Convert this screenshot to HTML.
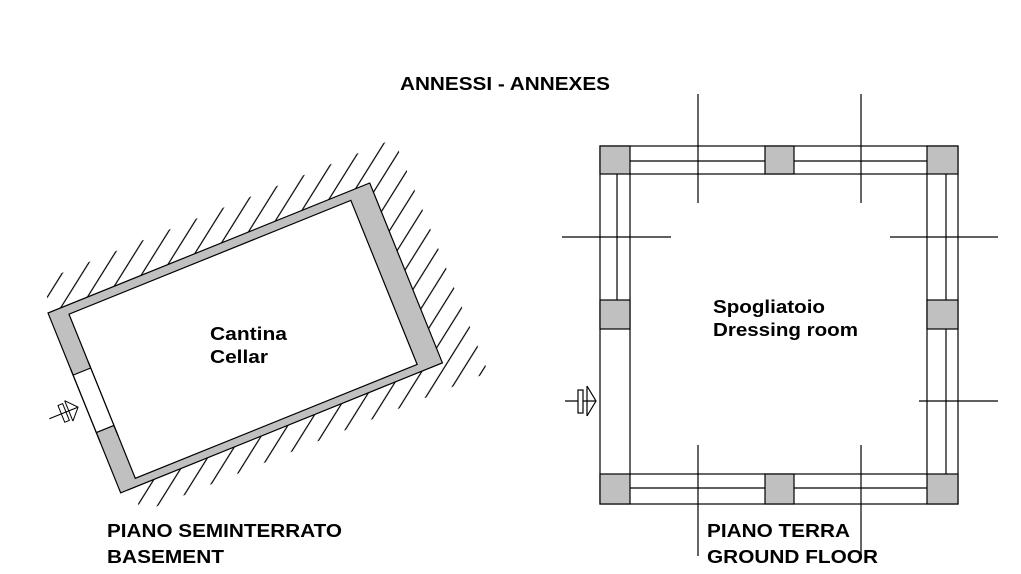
<!DOCTYPE html>
<html><head><meta charset="utf-8"><style>
html,body{margin:0;padding:0;background:#fff;}
svg{display:block;}
text{font-family:"Liberation Sans",Arial,sans-serif;font-weight:bold;font-size:18px;fill:#000;}
</style></head><body>
<svg width="1021" height="574" viewBox="0 0 1021 574" xmlns="http://www.w3.org/2000/svg">
<defs>
<pattern id="hatch" width="17" height="17" patternUnits="userSpaceOnUse" patternTransform="rotate(54)">
<line x1="8" y1="0" x2="8" y2="17" stroke="#000" stroke-width="1.2"/>
</pattern>
<mask id="band">
<polygon points="5,-32 386,-32 386,220 12,220 12,194 347,194 347,0 5,0" fill="#fff"/>
</mask>
</defs>
<text x="400" y="90" textLength="210" lengthAdjust="spacingAndGlyphs">ANNESSI - ANNEXES</text>

<!-- Left plan -->
<g transform="translate(48,313) rotate(-22)">
<rect x="-10" y="-60" width="420" height="310" fill="url(#hatch)" mask="url(#band)"/>
<rect x="0" y="0" width="347" height="194" fill="#c0c0c0" stroke="#000" stroke-width="1.2"/>
<rect x="19" y="9" width="304" height="177" fill="#fff" stroke="#000" stroke-width="1.2"/>
<rect x="0.6" y="67" width="18" height="62" fill="#fff"/>
<line x1="0" y1="67" x2="19" y2="67" stroke="#000" stroke-width="1.2"/>
<line x1="0" y1="129" x2="19" y2="129" stroke="#000" stroke-width="1.2"/>
<line x1="0" y1="60" x2="0" y2="140" stroke="#000" stroke-width="1.2"/>
<line x1="19" y1="60" x2="19" y2="140" stroke="#000" stroke-width="1.2"/>
</g>
<!-- left entry arrow -->
<g transform="translate(66,412) rotate(-22)" stroke="#000" stroke-width="1" fill="none">
<line x1="-18" y1="0" x2="12" y2="0"/>
<rect x="-5" y="-9" width="5" height="18"/>
<line x1="3" y1="-11" x2="3" y2="11"/>
<polyline points="3,-11 13,0 3,11"/>
</g>
<text x="210" y="340" textLength="77" lengthAdjust="spacingAndGlyphs">Cantina</text>
<text x="210" y="363" textLength="58" lengthAdjust="spacingAndGlyphs">Cellar</text>
<text x="107" y="537" textLength="235" lengthAdjust="spacingAndGlyphs">PIANO SEMINTERRATO</text>
<text x="107" y="563" textLength="117" lengthAdjust="spacingAndGlyphs">BASEMENT</text>

<!-- Right plan -->
<g stroke="#000" stroke-width="1.2" fill="none">
<rect x="600" y="146" width="358" height="358" fill="#fff"/>
<rect x="630" y="174" width="297" height="300"/>
<line x1="630" y1="161" x2="927" y2="161"/>
<line x1="630" y1="488" x2="927" y2="488"/>
<line x1="617" y1="174" x2="617" y2="300"/>
<line x1="946" y1="174" x2="946" y2="300"/>
<line x1="946" y1="329" x2="946" y2="474"/>
<g fill="#c0c0c0">
<rect x="600" y="146" width="30" height="28"/>
<rect x="765" y="146" width="29" height="28"/>
<rect x="927" y="146" width="31" height="28"/>
<rect x="600" y="474" width="30" height="30"/>
<rect x="765" y="474" width="29" height="30"/>
<rect x="927" y="474" width="31" height="30"/>
<rect x="600" y="300" width="30" height="29"/>
<rect x="927" y="300" width="31" height="29"/>
</g>
<line x1="698" y1="94" x2="698" y2="203"/>
<line x1="861" y1="94" x2="861" y2="203"/>
<line x1="698" y1="445" x2="698" y2="556"/>
<line x1="861" y1="445" x2="861" y2="556"/>
<line x1="562" y1="237" x2="671" y2="237"/>
<line x1="890" y1="237" x2="998" y2="237"/>
<line x1="919" y1="401" x2="998" y2="401"/>
<line x1="565" y1="401" x2="596" y2="401"/>
<rect x="578" y="390" width="5" height="23" fill="#fff"/>
<line x1="587" y1="386" x2="587" y2="416"/>
<polyline points="587,386 596,401 587,416"/>
</g>
<text x="713" y="313" textLength="112" lengthAdjust="spacingAndGlyphs">Spogliatoio</text>
<text x="713" y="336" textLength="145" lengthAdjust="spacingAndGlyphs">Dressing room</text>
<text x="707" y="537" textLength="143" lengthAdjust="spacingAndGlyphs">PIANO TERRA</text>
<text x="707" y="563" textLength="171" lengthAdjust="spacingAndGlyphs">GROUND FLOOR</text>
</svg>
</body></html>
